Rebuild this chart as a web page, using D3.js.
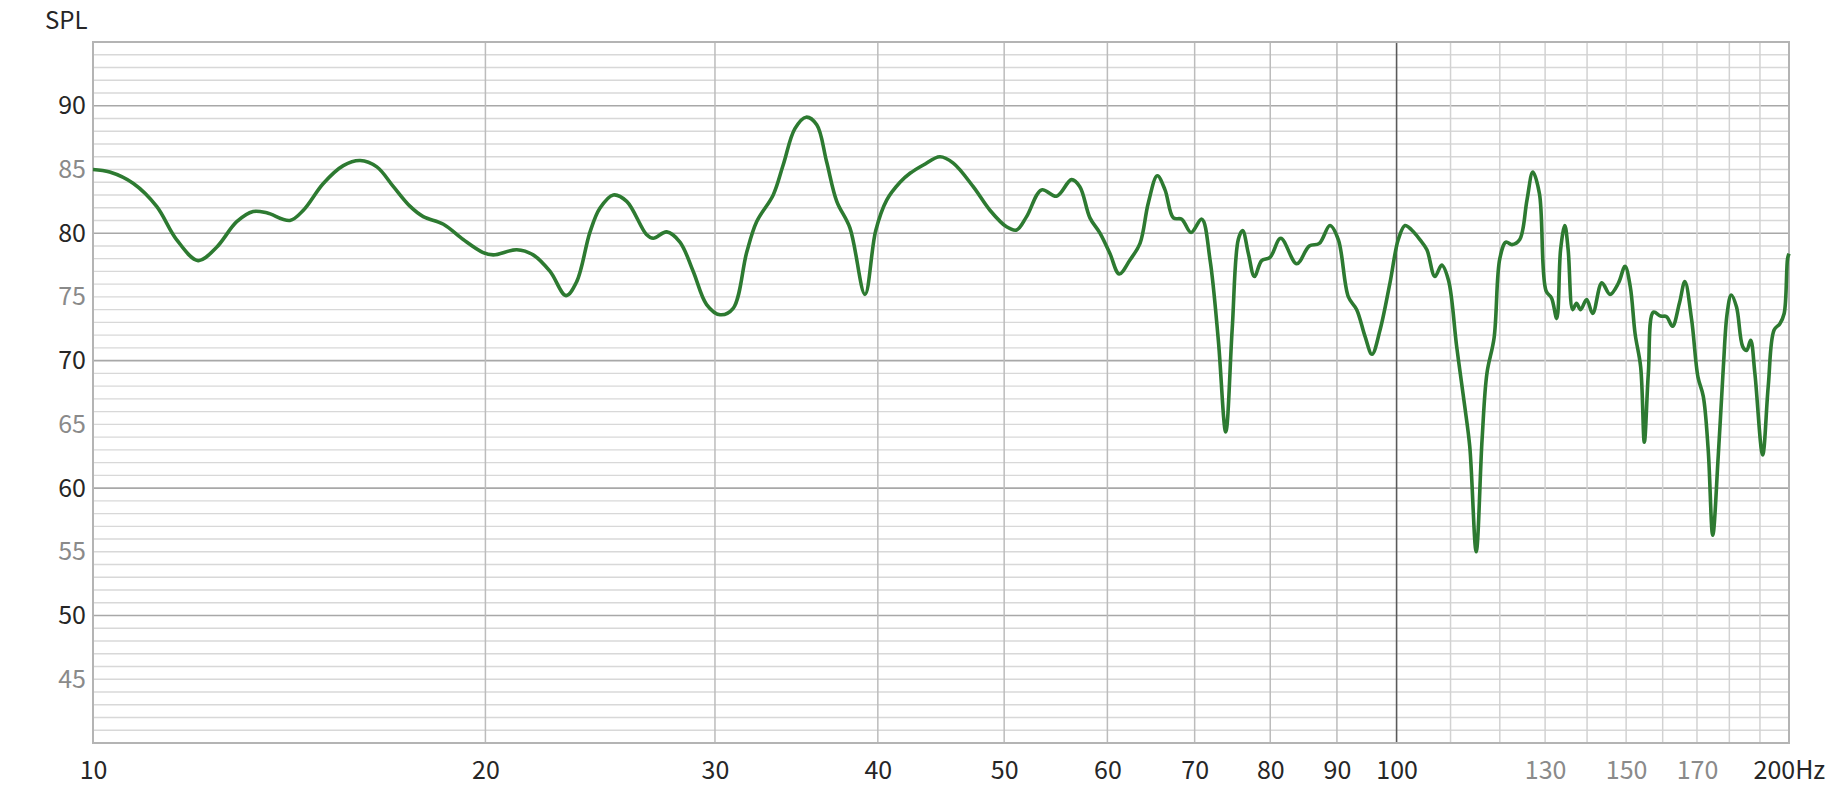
<!DOCTYPE html>
<html>
<head>
<meta charset="utf-8">
<script src="https://cdn.jsdelivr.net/npm/d3@7/dist/d3.min.js"></script>
<style>
  html, body { margin: 0; padding: 0; background: #fff; }
  svg { display: block; }
  text { font-family: "Noto Sans CJK KR", "Noto Sans", sans-serif; }
</style>
</head>
<body>
<svg id="chart" width="1834" height="800"></svg>
<script>
// Frequency (Hz) and SPL (dB)
const freqs = [10, 10.3, 10.74, 11.19, 11.59, 12.04, 12.44, 12.89, 13.27, 13.59, 14.16, 14.5, 15.02, 15.56, 16.03, 16.51, 17.0, 17.51, 17.92, 18.57, 19.23, 19.9,
  20.28, 21.14, 21.76, 22.42, 23.06, 23.5, 24.06, 24.48, 25.07, 25.67, 26.58, 26.9, 27.55, 28.2, 28.87, 29.56,
  30.27, 30.98, 31.73, 32.29, 33.25, 33.84, 34.55, 35.24, 35.91, 36.54, 37.2, 38.08, 39.1, 39.85,
  40.63, 41.6, 42.34, 43.35, 44.64, 45.7, 47.34, 48.76, 50.21, 51.11, 52.02, 53.42, 54.85, 56.32, 57.15, 58.18, 59.22,
  60.27, 61.27, 62.44, 63.56, 64.49, 65.53, 66.43, 67.42, 68.42, 69.56, 70.88, 71.93, 72.99, 73.95, 74.8, 75.61, 76.19, 76.97, 77.79, 78.8, 79.97,
  81.5, 83.83, 85.71, 87.24, 88.9, 90.22, 91.84, 93.2, 94.58, 95.75, 97.12, 98.84,
  100.3, 101.5, 102.7, 104.2, 105.5, 107.0, 108.3, 109.6, 111.2, 112.8, 113.8, 115.1, 116.3, 117.3, 118.8,
  120.0, 121.3, 122.6, 124.3, 125.9, 127.2, 128.7, 130.2, 131.5, 132.7, 133.6, 134.6, 135.4, 136.5, 137.4, 138.4, 139.9,
  141.4, 143.7, 145.8, 148.0, 149.7, 151.1, 152.4, 153.9, 154.9, 156.0, 157.4, 159.4, 161.1, 162.8, 164.8, 166.4, 168.4,
  170.3, 171.9, 173.4, 174.8, 176.5, 178.1, 179.3, 180.6, 182.3, 184.3, 185.6, 186.9, 188.3, 190.9, 192.8, 194.8, 196.8, 198.3, 199.5, 200];
const spl = [85.0, 84.8, 83.9, 82.1, 79.5, 77.85, 78.9, 80.9, 81.7, 81.6, 81.0, 81.8, 83.9, 85.3, 85.7, 85.2, 83.65, 82.1, 81.3, 80.7, 79.5, 78.5,
  78.3, 78.7, 78.3, 77.0, 75.1, 76.2, 80.1, 81.95, 83.0, 82.5, 79.9, 79.6, 80.1, 79.3, 77.0, 74.4,
  73.6, 74.1, 78.5, 80.9, 83.0, 85.35, 88.2, 89.1, 88.5, 85.6, 82.5, 80.4, 75.2, 80.2,
  82.6, 84.0, 84.7, 85.35, 86.0, 85.5, 83.65, 81.8, 80.5, 80.25, 81.3, 83.4, 82.9, 84.2, 83.65, 81.2, 80.0,
  78.4, 76.8, 77.9, 79.2, 82.35, 84.5, 83.4, 81.2, 81.1, 80.05, 81.1, 77.9, 71.6, 64.4, 72.5, 79.5, 80.2, 78.4, 76.6, 77.85, 78.1,
  79.6, 77.6, 79.0, 79.2, 80.6, 79.5, 75.0, 74.0, 71.9, 70.5, 72.4, 76.1,
  79.5, 80.6, 80.25, 79.5, 78.7, 76.6, 77.5, 76.3, 71.1, 66.4, 63.25, 55.0, 63.8, 69.0, 71.8,
  78.0, 79.3, 79.1, 79.5, 82.6, 84.8, 83.1, 75.5, 74.9, 73.3, 78.7, 80.6, 78.7, 74.0, 74.5, 74.0, 74.8,
  73.7, 76.1, 75.2, 76.1, 77.4, 75.8, 72.1, 69.5, 63.6, 69.0, 73.8, 73.5, 73.45, 72.7, 74.5, 76.2, 73.2,
  68.7, 67.2, 63.0, 56.3, 62.5, 69.5, 73.7, 75.15, 74.2, 71.1, 70.8, 71.6, 69.0, 62.6, 68.0, 72.4, 72.9, 73.7, 78.0, 78.4];

const xTicks = [10, 20, 30, 40, 50, 60, 70, 80, 90, 100, 130, 150, 170, 200];
const xGrid = [20, 30, 40, 50, 60, 70, 80, 90, 100, 110, 120, 130, 140, 150, 160, 170, 180, 190];
const yTicks = [45, 50, 55, 60, 65, 70, 75, 80, 85, 90];
const yMinorGrid = d3.range(41, 95, 1);

const svg = d3.select("#chart");
const pL = 93, pR = 1789, pT = 42, pB = 743;

const x = d3.scaleLog().domain([10, 200]).range([pL, pR]);
const y = d3.scaleLinear().domain([40, 95]).range([pB, pT]);

const g = svg.append("g");

// horizontal grid
g.append("g").selectAll("line").data(yMinorGrid).join("line")
  .attr("x1", pL).attr("x2", pR)
  .attr("y1", d => y(d)).attr("y2", d => y(d))
  .attr("stroke", d => d % 10 === 0 ? "#a8a8a8" : "#d8d8d8")
  .attr("stroke-width", d => d % 10 === 0 ? 1.6 : 1.4);

// vertical grid
g.append("g").selectAll("line").data(xGrid).join("line")
  .attr("x1", d => x(d)).attr("x2", d => x(d))
  .attr("y1", pT).attr("y2", pB)
  .attr("stroke", d => d === 100 ? "#5a5a5a" : (d > 100 ? "#d2d2d2" : "#bcbcbc"))
  .attr("stroke-width", d => d === 100 ? 1.6 : 1.5);

// frame
g.append("rect")
  .attr("x", pL).attr("y", pT)
  .attr("width", pR - pL).attr("height", pB - pT)
  .attr("fill", "none").attr("stroke", "#b4b4b4").attr("stroke-width", 2);

// axes
const yAxis = d3.axisLeft(y).tickValues(yTicks).tickSize(0).tickPadding(7);
const ya = svg.append("g").attr("transform", `translate(${pL},0)`).call(yAxis);
ya.select(".domain").remove();
ya.selectAll("text")
  .style("font-size", "25px")
  .attr("fill", d => d % 10 === 0 ? "#262626" : "#8a8a8a");

const xAxis = d3.axisBottom(x).tickValues(xTicks).tickSize(0).tickPadding(18)
  .tickFormat(d => d === 200 ? "200Hz" : String(d));
const xa = svg.append("g").attr("transform", `translate(0,${pB})`).call(xAxis);
xa.select(".domain").remove();
xa.selectAll("text")
  .style("font-size", "25px")
  .attr("fill", d => (d === 130 || d === 150 || d === 170) ? "#8a8a8a" : "#262626");
xa.selectAll(".tick").filter(d => d === 200).select("text")
  .attr("text-anchor", "start").attr("x", -36);

// SPL label
svg.append("text").attr("x", 45).attr("y", 29)
  .style("font-size", "24px").attr("fill", "#262626").text("SPL");

// curve
const pts = freqs.map((f, i) => [f, spl[i]]);
const line = d3.line().x(d => x(d[0])).y(d => y(d[1])).curve(d3.curveCatmullRom.alpha(0.5));
svg.append("path").datum(pts)
  .attr("d", line)
  .attr("fill", "none")
  .attr("stroke", "#2d7a31")
  .attr("stroke-width", 3.6)
  .attr("stroke-linejoin", "round");
</script>
</body>
</html>
